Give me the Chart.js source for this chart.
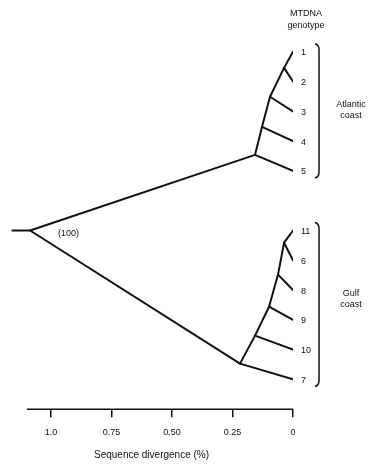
<!DOCTYPE html>
<html>
<head>
<meta charset="utf-8">
<script src="https://cdn.jsdelivr.net/npm/chart.js@4/dist/chart.umd.min.js"></script>
<style>
	html, body { margin: 0; padding: 0; background: #fff; }
	#wrap { width: 377px; height: 464px; }
</style>
</head>
<body>
<div id="wrap"><canvas id="treeChart" width="377" height="464"></canvas></div>
<script>
// leaves (mtDNA genotypes), top to bottom
const leafNames = ["1", "2", "3", "4", "5", "11", "6", "8", "9", "10", "7"];
const leafRows = [0, 1, 2, 3, 4, 6, 7, 8, 9, 10, 11];

// internal nodes: divergence (%) and vertical row
const nodeNames = ["root", "atl", "atl4", "atl3", "atl2", "gulf", "gulf10", "gulf9", "gulf8", "gulf6"];
const nodeDivergence = [1.087, 0.157, 0.128, 0.095, 0.037, 0.219, 0.157, 0.099, 0.062, 0.037];
const nodeRows = [6.0, 3.46, 2.52, 1.51, 0.54, 10.47, 9.53, 8.56, 7.48, 6.41];

// branches parent -> child
const edgeParents = ["root", "root", "atl", "atl", "atl4", "atl4", "atl3", "atl3", "atl2", "atl2",
	"gulf", "gulf", "gulf10", "gulf10", "gulf9", "gulf9", "gulf8", "gulf8", "gulf6", "gulf6"];
const edgeChildren = ["atl", "gulf", "atl4", "5", "atl3", "4", "atl2", "3", "1", "2",
	"gulf10", "7", "gulf9", "10", "gulf8", "9", "gulf6", "8", "11", "6"];

const rootStub = 1.16;
const rootSupport = "(100)";

const groupNames = [["Atlantic", "coast"], ["Gulf", "coast"]];
const groupLeaves = [["1", "5"], ["11", "7"]];

const tickValues = [1.0, 0.75, 0.5, 0.25, 0];
const tickLabels = ["1.0", "0.75", "0.50", "0.25", "0"];

function pos(name) {
	let i = leafNames.indexOf(name);
	if (i >= 0) return { x: 0, y: leafRows[i] };
	i = nodeNames.indexOf(name);
	return { x: nodeDivergence[i], y: nodeRows[i] };
}

const datasets = edgeParents.map((p, i) => ({
	data: [pos(p), pos(edgeChildren[i])],
}));
datasets.push({ data: [{ x: rootStub, y: nodeRows[0] }, pos("root")] });
datasets.forEach((d) => {
	d.showLine = true;
	d.borderColor = "#111";
	d.borderWidth = 2;
	d.pointRadius = 0;
	d.borderCapStyle = "round";
});

const FONT = "'Liberation Sans', Arial, sans-serif";

const treeLabels = {
	id: "treeLabels",
	afterDraw(chart) {
		const ctx = chart.ctx;
		const xs = chart.scales.x;
		const ys = chart.scales.y;
		const x0 = xs.getPixelForValue(0);
		ctx.save();
		ctx.fillStyle = "#111";
		ctx.strokeStyle = "#111";

		// axis line only over the data range
		ctx.lineWidth = 1.5;
		ctx.beginPath();
		ctx.moveTo(xs.getPixelForValue(1.1), chart.chartArea.bottom);
		ctx.lineTo(x0, chart.chartArea.bottom);
		ctx.stroke();

		ctx.font = "9px " + FONT;
		ctx.textBaseline = "middle";
		ctx.textAlign = "left";
		leafNames.forEach((n, i) => {
			ctx.fillText(n, x0 + 8, ys.getPixelForValue(leafRows[i]) + 1);
		});

		ctx.fillText(rootSupport, xs.getPixelForValue(nodeDivergence[0]) + 28, ys.getPixelForValue(nodeRows[0]) + 3);

		ctx.textAlign = "center";
		ctx.fillText("MTDNA", x0 + 13, 14);
		ctx.fillText("genotype", x0 + 13, 26);

		// brackets round each coast group
		const bx = x0 + 26;
		const labelShift = [0, -5];
		ctx.lineWidth = 1.5;
		groupLeaves.forEach((g, k) => {
			const top = ys.getPixelForValue(leafRows[leafNames.indexOf(g[0])]) - 5;
			const bot = ys.getPixelForValue(leafRows[leafNames.indexOf(g[1])]) + 4;
			ctx.beginPath();
			ctx.moveTo(bx - 4, top - 3);
			ctx.quadraticCurveTo(bx, top - 2, bx, top + 3);
			ctx.lineTo(bx, bot - 3);
			ctx.quadraticCurveTo(bx, bot + 2, bx - 4, bot + 3);
			ctx.stroke();
			const mid = (top + bot) / 2 + labelShift[k];
			ctx.fillText(groupNames[k][0], bx + 32, mid - 6);
			ctx.fillText(groupNames[k][1], bx + 32, mid + 5);
		});
		ctx.restore();
	},
};

new Chart(document.getElementById("treeChart").getContext("2d"), {
	type: "scatter",
	data: { datasets: datasets },
	options: {
		responsive: false,
		animation: false,
		devicePixelRatio: 1,
		layout: { padding: { left: 10, right: 84, top: 22, bottom: 0 } },
		plugins: {
			legend: { display: false },
			tooltip: { enabled: false },
		},
		scales: {
			x: {
				type: "linear",
				reverse: true,
				min: 0,
				max: 1.17,
				afterBuildTicks: (axis) => {
					axis.ticks = tickValues.map((v) => ({ value: v }));
				},
				border: { display: false },
				grid: {
					drawOnChartArea: false,
					drawTicks: true,
					tickLength: 8,
					color: "#111",
					lineWidth: 1.5,
				},
				ticks: {
					color: "#111",
					font: { family: FONT, size: 9 },
					padding: 10,
					maxRotation: 0,
					autoSkip: false,
					callback: (v) => tickLabels[tickValues.indexOf(v)],
				},
				title: {
					display: true,
					text: "Sequence divergence (%)",
					color: "#111",
					font: { family: FONT, size: 10 },
					padding: { top: 1, bottom: 3 },
				},
			},
			y: {
				type: "linear",
				display: false,
				reverse: true,
				min: -1,
				max: 12,
			},
		},
	},
	plugins: [treeLabels],
});
</script>
</body>
</html>
